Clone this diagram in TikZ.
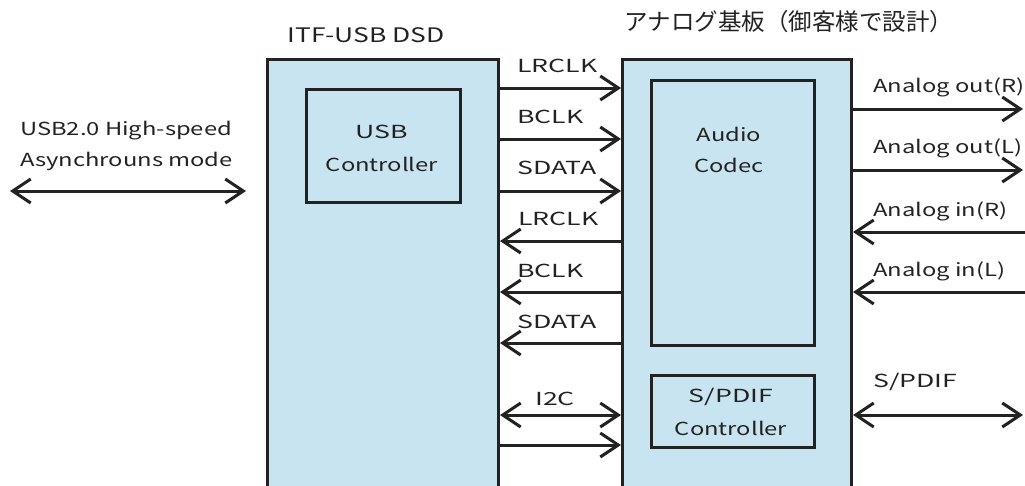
\documentclass[tikz,border=0pt]{standalone}
\usepackage{fontspec}
\setmainfont{Noto Sans CJK JP}
\newfontfamily\latw[FakeStretch=1.32]{Noto Sans CJK JP}
\newfontfamily\capw[FakeStretch=1.48]{Noto Sans CJK JP}
\usetikzlibrary{arrows.meta}
\definecolor{boxfill}{HTML}{C8E4F1}
\definecolor{ink}{HTML}{222222}
\tikzset{
  blk/.style={draw=ink, line width=3pt, fill=boxfill, anchor=north west, inner sep=0pt},
  sig/.style={draw=ink, line width=3pt, -{Straight Barb[length=18pt,width=24pt,line width=3pt]}},
  bisig/.style={draw=ink, line width=3pt, {Straight Barb[length=18pt,width=24pt,line width=3pt]}-{Straight Barb[length=18pt,width=24pt,line width=3pt]}},
  lbl/.style={text=ink, font=\latw\fontsize{18}{21}\selectfont, inner sep=0pt},
  clbl/.style={text=ink, font=\capw\fontsize{18}{21}\selectfont, inner sep=0pt},
  ttl/.style={text=ink, font=\latw\fontsize{20}{23}\selectfont, inner sep=0pt},
  jttl/.style={text=ink, font=\fontsize{23.5}{26}\selectfont, inner sep=0pt},
}
\begin{document}
\begin{tikzpicture}[x=1pt,y=-1pt]
\useasboundingbox (0,0) rectangle (1025,485);
\clip (0,0) rectangle (1025,485);
% main boxes
\node[blk, minimum width=231pt, minimum height=450pt] (L) at (266,58) {};
\node[blk, minimum width=229pt, minimum height=450pt] (R) at (621,58) {};
\node[blk, minimum width=154pt, minimum height=113pt] (usbc) at (305,88) {};
\node[blk, minimum width=163pt, minimum height=265pt] (codec) at (650,79) {};
\node[blk, minimum width=163pt, minimum height=72pt] (spdifc) at (650,374) {};
% titles
\node[ttl] (tL) at (366,35) {ITF-USB DSD};
\node[jttl] (tR) at (789,22) {アナログ基板（御客様で設計）};
% inner texts
\node[clbl] (t1) at (382,132) {USB};
\node[lbl] (t2) at (382,164) {Controller};
\node[lbl] (t3) at (729,134) {Audio};
\node[lbl] (t4) at (729,165) {Codec};
\node[clbl] (t5) at (731,397) {S/PDIF};
\node[lbl] (t6) at (731,428) {Controller};
% USB link
\coordinate (u1) at (10,191);
\coordinate (u2) at (246,191);
\draw[bisig] (u1) -- (u2);
\node[lbl, anchor=west] (ut1) at (20,131) {USB2.0 High-speed};
\node[lbl, anchor=west] (ut2) at (20,161) {Asynchrouns mode};
% I2S lines
\draw[sig] (L.east |- 0,88) -- (R.west |- 0,88);
\draw[sig] (L.east |- 0,139) -- (R.west |- 0,139);
\draw[sig] (L.east |- 0,191) -- (R.west |- 0,191);
\draw[sig] (R.west |- 0,241) -- (L.east |- 0,241);
\draw[sig] (R.west |- 0,292) -- (L.east |- 0,292);
\draw[sig] (R.west |- 0,343) -- (L.east |- 0,343);
\draw[bisig] (L.east |- 0,415) -- (R.west |- 0,415);
\draw[sig] (L.east |- 0,445) -- (R.west |- 0,445);
\node[clbl, anchor=west] (l1) at (517,66) {LRCLK};
\node[clbl, anchor=west] (l2) at (517,117) {BCLK};
\node[clbl, anchor=west] (l3) at (517,168) {SDATA};
\node[clbl, anchor=west] (l4) at (518,219) {LRCLK};
\node[clbl, anchor=west] (l5) at (517,271) {BCLK};
\node[clbl, anchor=west] (l6) at (517,322) {SDATA};
\node[clbl] (l7) at (555,399) {I2C};
% analog side
\coordinate (ao1) at (1023,109);
\coordinate (ao2) at (1023,170);
\coordinate (ai1) at (1025,232);
\coordinate (ai2) at (1025,292);
\coordinate (sp) at (1023,415);
\draw[sig] (R.east |- ao1) -- (ao1);
\draw[sig] (R.east |- ao2) -- (ao2);
\draw[sig] (ai1) -- (R.east |- ai1);
\draw[sig] (ai2) -- (R.east |- ai2);
\draw[bisig] (R.east |- sp) -- (sp);
\node[lbl, anchor=west] (r1) at (873,87) {Analog out(R)};
\node[lbl, anchor=west] (r2) at (873,148) {Analog out(L)};
\node[lbl, anchor=west] (r3) at (873,211) {Analog in(R)};
\node[lbl, anchor=west] (r4) at (873,271) {Analog in(L)};
\node[clbl, anchor=west] (r5) at (873,382) {S/PDIF};
\end{tikzpicture}
\end{document}
